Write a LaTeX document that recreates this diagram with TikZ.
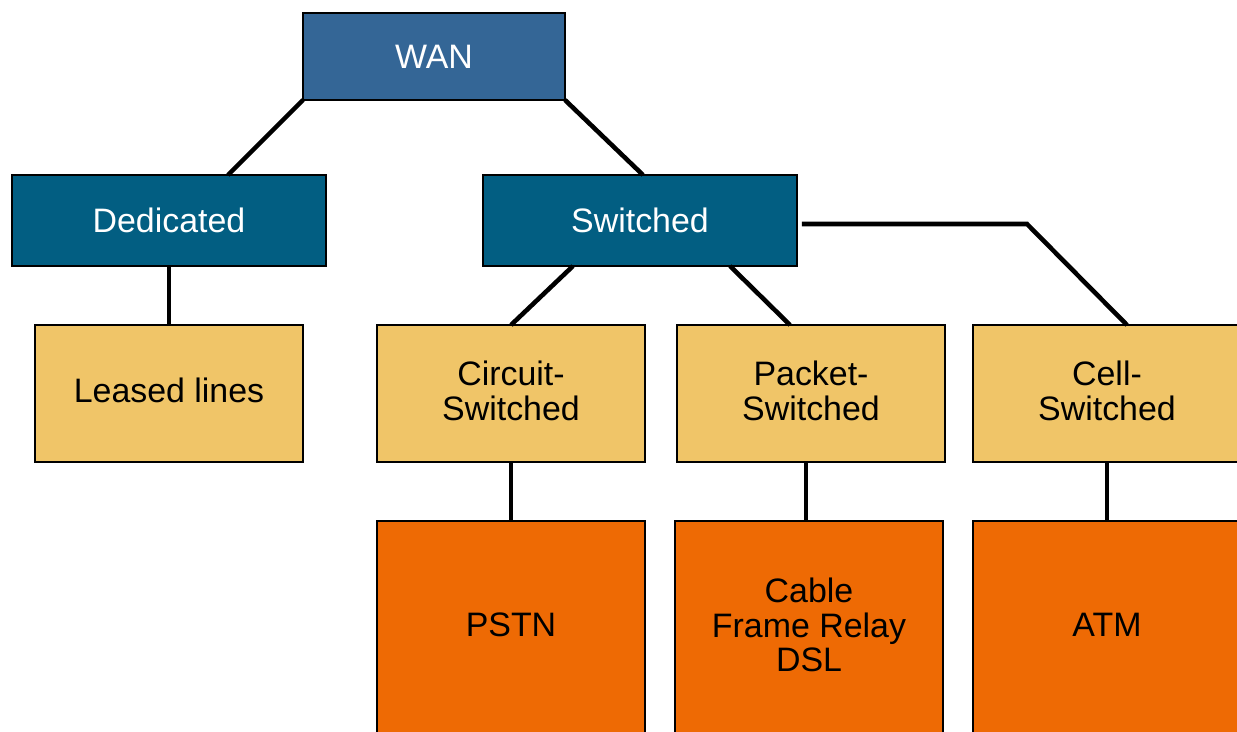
\documentclass[tikz,border=0pt]{standalone}
\usepackage{fontspec}
\setmainfont{Liberation Sans}
\usepackage{tikz}
\usetikzlibrary{positioning}
\definecolor{wanblue}{RGB}{52,102,150}
\definecolor{linkblue}{RGB}{2,94,130}
\definecolor{kindyellow}{RGB}{240,197,104}
\definecolor{techorange}{RGB}{238,106,4}

\begin{document}
\begin{tikzpicture}[
      x=0.02cm,y=-0.02cm,
      box/.style={rectangle,draw=black,line width=1.3pt,inner sep=0pt,outer sep=0pt,align=center,
        font=\fontsize{19.3}{19.6}\selectfont},
      wanbox/.style={box,fill=wanblue,text=white,minimum width=5.24cm,minimum height=1.74cm},
      linkbox/.style={box,fill=linkblue,text=white,minimum width=6.28cm,minimum height=1.82cm},
      kindbox/.style={box,fill=kindyellow,text depth=3.4pt,minimum width=5.36cm,minimum height=2.74cm},
      techbox/.style={box,fill=techorange,text depth=3.4pt,minimum width=5.36cm,minimum height=4.28cm},
      edge/.style={draw=black,line width=2.6pt}]
    \useasboundingbox (0,0) rectangle (1237,732);
    \clip (0,0) rectangle (1237,732);
    % boxes
    \node[wanbox] (wan) at (434,56.5) {WAN};
    \node[linkbox] (ded) at (169,220.5) {Dedicated};
    \node[linkbox] (sw) at (640,220.5) {Switched};
    \node[kindbox] (lease) at (169,393.5) {Leased lines};
    \node[kindbox] (circ) at (511,393.5) {Circuit-\\Switched};
    \node[kindbox] (pack) at (811,393.5) {Packet-\\Switched};
    \node[kindbox] (cell) at (1107,393.5) {Cell-\\Switched};
    \node[techbox] (pstn) at (511,628) {PSTN};
    \node[techbox] (cable) at (809,628) {Cable\\Frame Relay\\DSL};
    \node[techbox] (atm) at (1107,628) {ATM};
    \coordinate (bend) at (1027,224);
    % connectors
    \draw[edge] (wan.south west) -- ([xshift=1.18cm]ded.north);
    \draw[edge] (wan.south east) -- ([xshift=0.06cm]sw.north);
    \draw[edge] (ded.south) -- (lease.north);
    \draw[edge] ([xshift=-1.34cm]sw.south) -- (circ.north);
    \draw[edge] ([xshift=1.8cm]sw.south) -- ([xshift=-0.42cm]pack.north);
    \draw[edge] ([xshift=0.1cm,yshift=-0.07cm]sw.east) -- (bend) -- ([xshift=0.4cm]cell.north);
    \draw[edge] (circ.south) -- (pstn.north);
    \draw[edge] ([xshift=-0.06cm]cable.north |- pack.south) -- ([xshift=-0.06cm]cable.north);
    \draw[edge] (cell.south) -- (atm.north);
  \end{tikzpicture}
\end{document}
